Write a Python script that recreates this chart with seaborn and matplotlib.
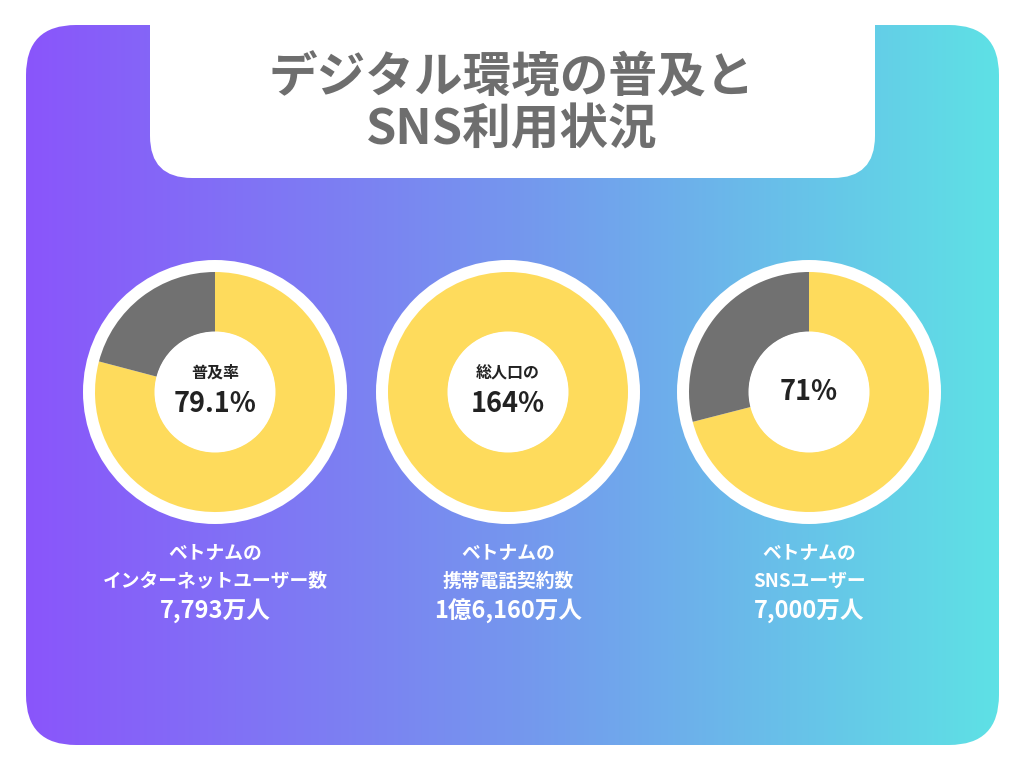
import numpy as np
import matplotlib
matplotlib.use("Agg")
import matplotlib.pyplot as plt
import seaborn as sns
from matplotlib.patches import FancyBboxPatch, Circle
from matplotlib.colors import LinearSegmentedColormap

# ---- data ----
title_lines = ["デジタル環境の普及と", "SNS利用状況"]
inner_captions = ["普及率", "総人口の", ""]
inner_values = ["79.1%", "164%", "71%"]
yellow_share = [79.1, 100.0, 71.0]
label_line1 = ["ベトナムの", "ベトナムの", "ベトナムの"]
label_line2 = ["インターネットユーザー数", "携帯電話契約数", "SNSユーザー"]
label_line3 = ["7,793万人", "1億6,160万人", "7,000万人"]

sns.set_theme(style="white")
plt.rcParams['font.family'] = ['Noto Sans CJK JP', 'DejaVu Sans']

W, H = 1024, 768
fig = plt.figure(figsize=(10.24, 7.68), dpi=100)
ax = fig.add_axes([0, 0, 1, 1])
ax.set_xlim(0, W)
ax.set_ylim(0, H)
ax.set_aspect('equal')
ax.set_axis_off()

def Y(y):
    return H - y

# gradient rounded background
x0, x1, y0, y1 = 26, 999, 25, 745
bg = FancyBboxPatch((x0 + 50, Y(y1) + 50), (x1 - x0) - 100, (y1 - y0) - 100,
                    boxstyle="round,pad=50", facecolor='none', edgecolor='none')
ax.add_patch(bg)
cmap = LinearSegmentedColormap.from_list("g", ["#8A55FB", "#7596EE", "#5EE1E5"])
grad = np.linspace(0, 1, 512).reshape(1, -1)
im = ax.imshow(grad, cmap=cmap, extent=(x0, x1, Y(y1), Y(y0)), aspect='auto', zorder=1)
im.set_clip_path(bg)

# title tab
tab = FancyBboxPatch((150 + 42, Y(178) + 42), 725 - 84, 300, boxstyle="round,pad=42",
                     facecolor='white', edgecolor='none', zorder=2)
ax.add_patch(tab)
ax.text(512, Y(78), title_lines[0], ha='center', va='center', fontsize=35,
        fontweight='bold', color='#6E6E6E', zorder=3)
ax.text(512, Y(130), title_lines[1], ha='center', va='center', fontsize=35,
        fontweight='bold', color='#6E6E6E', zorder=3)

# donuts
centers_x = [215, 508, 809]
cy = 392
pal = sns.color_palette(["#FEDB5C", "#717171"])
for i, cx in enumerate(centers_x):
    ax.add_patch(Circle((cx, Y(cy)), 132, facecolor='white', edgecolor='none', zorder=3))
    vals = [yellow_share[i], 100 - yellow_share[i]]
    wedges, _ = ax.pie(vals, colors=pal, startangle=90, counterclock=False,
                       radius=120, center=(cx, Y(cy)), frame=True,
                       wedgeprops=dict(width=60, linewidth=0))
    for w in wedges:
        w.set_zorder(4)
    ax.add_patch(Circle((cx, Y(cy)), 60.5, facecolor='white', edgecolor='none', zorder=5))
    if inner_captions[i]:
        ax.text(cx, Y(373), inner_captions[i], ha='center', va='center', fontsize=11.5,
                fontweight='bold', color='#222222', zorder=6)
        ax.text(cx, Y(404), inner_values[i], ha='center', va='center', fontsize=19.5,
                fontweight='bold', color='#222222', zorder=6)
    else:
        ax.text(cx, Y(392), inner_values[i], ha='center', va='center', fontsize=19.5,
                fontweight='bold', color='#222222', zorder=6)
    ax.text(cx, Y(553), label_line1[i], ha='center', va='center', fontsize=13.5,
            fontweight='bold', color='white', zorder=6)
    ax.text(cx, Y(581), label_line2[i], ha='center', va='center', fontsize=13.5,
            fontweight='bold', color='white', zorder=6)
    ax.text(cx, Y(611), label_line3[i], ha='center', va='center', fontsize=17,
            fontweight='bold', color='white', zorder=6)

ax.set_xlim(0, W)
ax.set_ylim(0, H)
ax.set_axis_off()
fig.savefig("out.png", dpi=100, facecolor='white')
